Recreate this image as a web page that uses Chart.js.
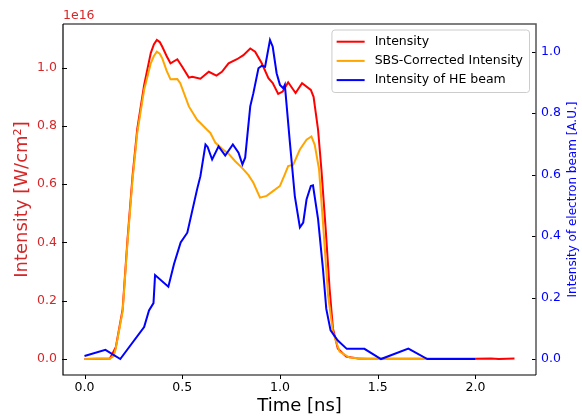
<!DOCTYPE html>
<html>
<head>
<meta charset="utf-8">
<script src="https://cdn.jsdelivr.net/npm/chart.js@4"></script>
<style>
  body { margin: 0; background: #fff; }
  #wrap { width: 582px; height: 417px; }
</style>
</head>
<body>
<div id="wrap"><canvas id="grafico" width="582" height="417"></canvas></div>
<script>
// Time axis (ns) and values
const tIntensity = [0, 0.13, 0.16, 0.195, 0.22, 0.246, 0.27, 0.305, 0.339, 0.355, 0.37, 0.385, 0.398, 0.42, 0.44, 0.475, 0.5, 0.534, 0.551, 0.593, 0.636, 0.675, 0.703, 0.737, 0.78, 0.813, 0.848, 0.873, 0.907, 0.941, 0.963, 0.991, 1.014, 1.042, 1.08, 1.113, 1.158, 1.172, 1.195, 1.212, 1.234, 1.254, 1.271, 1.296, 1.339, 1.4, 1.6, 2.0, 2.08, 2.12, 2.16, 2.2];
const intensity = [0, 0.002, 0.04, 0.17, 0.41, 0.63, 0.79, 0.94, 1.05, 1.08, 1.095, 1.088, 1.072, 1.04, 1.015, 1.029, 1.003, 0.966, 0.969, 0.962, 0.986, 0.973, 0.986, 1.015, 1.029, 1.043, 1.066, 1.055, 1.015, 0.964, 0.947, 0.91, 0.918, 0.95, 0.913, 0.947, 0.924, 0.9, 0.787, 0.651, 0.446, 0.241, 0.105, 0.036, 0.008, 0.002, 0.001, 0.001, 0.0015, 0, 0.001, 0.002];

const tSbs = [0, 0.13, 0.15, 0.16, 0.195, 0.22, 0.246, 0.27, 0.305, 0.339, 0.355, 0.37, 0.385, 0.398, 0.42, 0.44, 0.475, 0.49, 0.534, 0.576, 0.593, 0.627, 0.644, 0.67, 0.712, 0.737, 0.771, 0.805, 0.839, 0.864, 0.898, 0.932, 0.966, 1.0, 1.025, 1.042, 1.068, 1.102, 1.136, 1.161, 1.178, 1.2, 1.22, 1.246, 1.271, 1.305, 1.356, 1.45, 2.0];
const sbsCorrected = [0, 0.002, 0.01, 0.037, 0.163, 0.40, 0.617, 0.777, 0.924, 1.015, 1.04, 1.055, 1.048, 1.032, 0.99, 0.96, 0.961, 0.947, 0.867, 0.821, 0.81, 0.787, 0.776, 0.742, 0.717, 0.705, 0.679, 0.657, 0.631, 0.605, 0.554, 0.56, 0.577, 0.594, 0.634, 0.662, 0.667, 0.719, 0.753, 0.764, 0.735, 0.651, 0.469, 0.218, 0.093, 0.025, 0.005, 0, 0];

const tBeam = [0, 0.107, 0.183, 0.305, 0.33, 0.353, 0.361, 0.429, 0.458, 0.492, 0.526, 0.576, 0.593, 0.619, 0.63, 0.653, 0.686, 0.72, 0.759, 0.788, 0.808, 0.822, 0.848, 0.864, 0.89, 0.907, 0.924, 0.949, 0.963, 0.983, 1.0, 1.017, 1.025, 1.051, 1.076, 1.102, 1.119, 1.136, 1.158, 1.169, 1.195, 1.22, 1.237, 1.259, 1.296, 1.342, 1.432, 1.517, 1.657, 1.754, 2.0];
const heBeam = [0.01, 0.03, 0, 0.104, 0.158, 0.182, 0.273, 0.235, 0.309, 0.379, 0.411, 0.552, 0.595, 0.698, 0.69, 0.649, 0.692, 0.662, 0.698, 0.671, 0.633, 0.655, 0.822, 0.865, 0.946, 0.954, 0.951, 1.038, 1.016, 0.93, 0.892, 0.881, 0.892, 0.703, 0.53, 0.428, 0.444, 0.519, 0.563, 0.565, 0.455, 0.293, 0.163, 0.093, 0.06, 0.033, 0.033, 0, 0.034, 0, 0];

const timeTicks = [0, 0.5, 1.0, 1.5, 2.0];
const intensityTicks = [0, 0.2, 0.4, 0.6, 0.8, 1.0];
const beamTicks = [0, 0.2, 0.4, 0.6, 0.8, 1.0];

const FONT = 'DejaVu Sans';
const rojo = '#d62728';
const azul = '#0000ff';

const pares = (xs, ys) => xs.map((x, i) => ({ x: x, y: ys[i] }));
const fijarTicks = lista => scale => { scale.ticks = lista.map(v => ({ value: v })); };

// spines, inward ticks, legend, offset text and right title
const decoracion = {
  id: 'decoracion',
  afterDatasetsDraw(chart) {
    const ctx = chart.ctx;
    const a = chart.chartArea;
    ctx.save();

    // ticks
    ctx.strokeStyle = '#000';
    ctx.lineWidth = 1;
    ctx.beginPath();
    chart.scales.x.ticks.forEach(t => {
      const px = Math.round(chart.scales.x.getPixelForValue(t.value)) + 0.5;
      ctx.moveTo(px, a.bottom); ctx.lineTo(px, a.bottom + 4);
    });
    chart.scales.y.ticks.forEach(t => {
      const py = Math.round(chart.scales.y.getPixelForValue(t.value)) + 0.5;
      ctx.moveTo(a.left - 1, py); ctx.lineTo(a.left + 4, py);
    });
    chart.scales.y2.ticks.forEach(t => {
      const py = Math.round(chart.scales.y2.getPixelForValue(t.value)) + 0.5;
      ctx.moveTo(a.right - 4, py); ctx.lineTo(a.right, py);
    });
    ctx.stroke();

    // spines
    ctx.strokeStyle = '#555';
    ctx.lineWidth = 1.5;
    ctx.beginPath();
    ctx.moveTo(a.left, a.top); ctx.lineTo(a.right, a.top); ctx.lineTo(a.right, a.bottom);
    ctx.stroke();
    ctx.strokeStyle = '#000';
    ctx.lineWidth = 1.2;
    ctx.beginPath();
    ctx.moveTo(a.left, a.top); ctx.lineTo(a.left, a.bottom); ctx.lineTo(a.right, a.bottom);
    ctx.stroke();

    // legend
    ctx.font = '12.5px "' + FONT + '"';
    const ds = chart.data.datasets;
    const anchoTexto = Math.max(...ds.map(d => ctx.measureText(d.label).width));
    const w = 42.7 + anchoTexto + 6.5;
    const h = 62.5;
    const x0 = a.right - 6.5 - w;
    const y0 = a.top + 6;
    ctx.fillStyle = 'rgba(255,255,255,0.8)';
    ctx.strokeStyle = '#cccccc';
    ctx.lineWidth = 1;
    ctx.beginPath();
    ctx.roundRect(x0, y0, w, h, 3);
    ctx.fill();
    ctx.stroke();
    ds.forEach((d, i) => {
      const yy = y0 + 11.7 + i * 19.2;
      ctx.strokeStyle = d.borderColor;
      ctx.lineWidth = 2;
      ctx.beginPath();
      ctx.moveTo(x0 + 4.7, yy); ctx.lineTo(x0 + 32.7, yy);
      ctx.stroke();
      ctx.fillStyle = '#000';
      ctx.textAlign = 'left';
      ctx.textBaseline = 'middle';
      ctx.fillText(d.label, x0 + 42.7, yy);
    });

    // offset text
    ctx.fillStyle = rojo;
    ctx.textAlign = 'left';
    ctx.textBaseline = 'alphabetic';
    ctx.font = '12.5px "' + FONT + '"';
    ctx.fillText('1e16', a.left, 19);

    // right axis title, reading bottom to top
    ctx.save();
    ctx.translate(573, (a.top + a.bottom) / 2);
    ctx.rotate(-Math.PI / 2);
    ctx.fillStyle = azul;
    ctx.textAlign = 'center';
    ctx.textBaseline = 'middle';
    ctx.font = '12px "' + FONT + '"';
    ctx.fillText('Intensity of electron beam [A.U.]', 0, 0);
    ctx.restore();

    ctx.restore();
  }
};

const ctx = document.getElementById('grafico').getContext('2d');
new Chart(ctx, {
  type: 'line',
  data: {
    datasets: [
      { label: 'Intensity', data: pares(tIntensity, intensity), borderColor: '#ff0000', yAxisID: 'y', order: 3 },
      { label: 'SBS-Corrected Intensity', data: pares(tSbs, sbsCorrected), borderColor: '#ffa500', yAxisID: 'y', order: 2 },
      { label: 'Intensity of HE beam', data: pares(tBeam, heBeam), borderColor: '#0000ff', yAxisID: 'y2', order: 1 }
    ]
  },
  options: {
    responsive: false,
    animation: false,
    devicePixelRatio: 1,
    layout: { padding: { top: 24, left: 0, right: 0, bottom: 0 } },
    elements: {
      line: { borderWidth: 2, tension: 0, fill: false },
      point: { radius: 0 }
    },
    plugins: { legend: { display: false }, tooltip: { enabled: false } },
    scales: {
      x: {
        type: 'linear',
        min: -0.11,
        max: 2.31,
        afterBuildTicks: fijarTicks(timeTicks),
        afterFit: s => { s.height = 42; },
        grid: { display: true, drawOnChartArea: false, drawTicks: false },
        border: { display: false },
        ticks: { color: '#000', padding: 5, maxRotation: 0, font: { family: FONT, size: 12.5 }, callback: v => v.toFixed(1) },
        title: { display: true, text: 'Time [ns]', color: '#000', font: { family: FONT, size: 18 }, padding: { top: 0, bottom: 0 } }
      },
      y: {
        position: 'left',
        min: -0.055,
        max: 1.15,
        afterBuildTicks: fijarTicks(intensityTicks),
        afterFit: s => { s.width = 63; },
        grid: { display: true, drawOnChartArea: false, drawTicks: false },
        border: { display: false },
        ticks: { color: rojo, padding: 6, font: { family: FONT, size: 12.5 }, callback: v => v.toFixed(1) },
        title: { display: true, text: 'Intensity [W/cm²]', color: rojo, font: { family: FONT, size: 18 }, padding: { top: 12, bottom: 0 } }
      },
      y2: {
        position: 'right',
        min: -0.052,
        max: 1.09,
        afterBuildTicks: fijarTicks(beamTicks),
        afterFit: s => { s.width = 46; },
        grid: { display: true, drawOnChartArea: false, drawTicks: false },
        border: { display: false },
        ticks: { color: azul, padding: 5, font: { family: FONT, size: 12.5 }, callback: v => v.toFixed(1) }
      }
    }
  },
  plugins: [decoracion]
});
</script>
</body>
</html>
